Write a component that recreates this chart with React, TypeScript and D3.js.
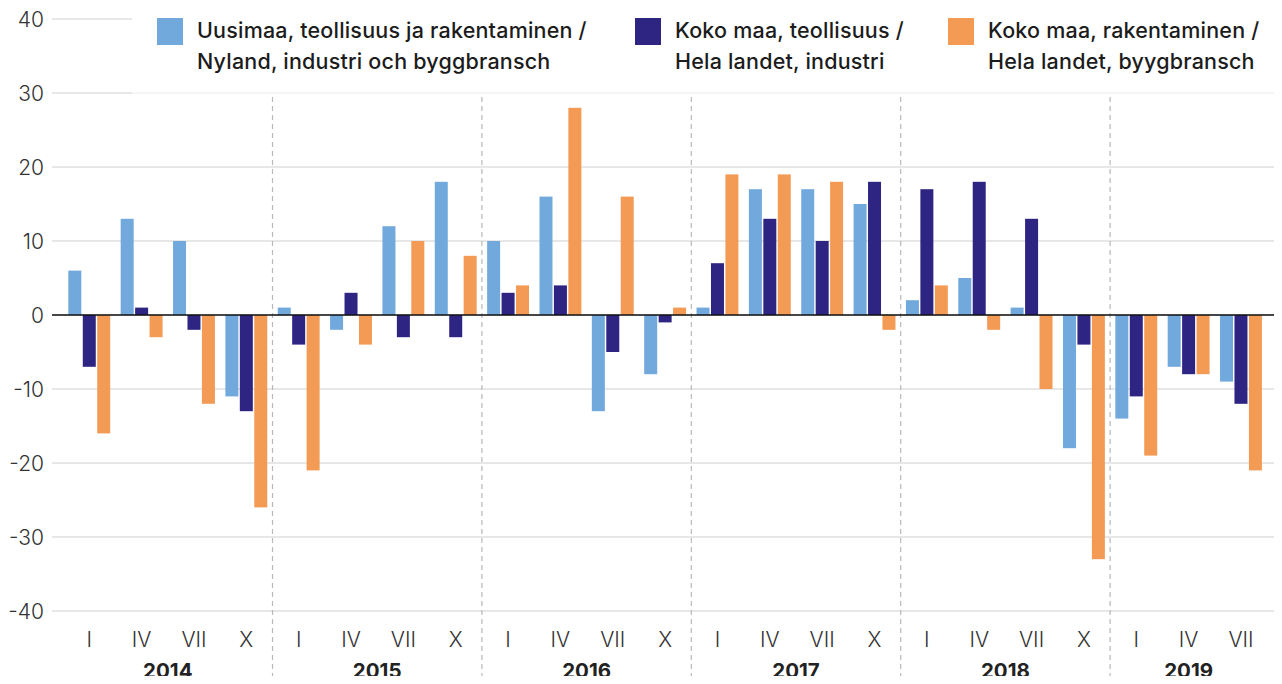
import React from "react";
import { scaleBand, scaleLinear, range } from "d3";

const years = ["2014", "2015", "2016", "2017", "2018", "2019"];
const quarters = [
  "2014 I", "2014 IV", "2014 VII", "2014 X",
  "2015 I", "2015 IV", "2015 VII", "2015 X",
  "2016 I", "2016 IV", "2016 VII", "2016 X",
  "2017 I", "2017 IV", "2017 VII", "2017 X",
  "2018 I", "2018 IV", "2018 VII", "2018 X",
  "2019 I", "2019 IV", "2019 VII",
];

// Uusimaa, teollisuus ja rakentaminen
const uusimaa = [6, 13, 10, -11, 1, -2, 12, 18, 10, 16, -13, -8, 1, 17, 17, 15, 2, 5, 1, -18, -14, -7, -9];
// Koko maa, teollisuus
const kokoTeollisuus = [-7, 1, -2, -13, -4, 3, -3, -3, 3, 4, -5, -1, 7, 13, 10, 18, 17, 18, 13, -4, -11, -8, -12];
// Koko maa, rakentaminen
const kokoRakentaminen = [-16, -3, -12, -26, -21, -4, 10, 8, 4, 28, 16, 1, 19, 19, 18, -2, 4, -2, -10, -33, -19, -8, -21];

const yTicks = [40, 30, 20, 10, 0, -10, -20, -30, -40];

const seriesNames = ["uusimaa", "teollisuus", "rakentaminen"];
const seriesColors = ["#72a9dc", "#2e2583", "#f39a55"];
const legendLines = [
  ["Uusimaa, teollisuus ja rakentaminen /", "Nyland, industri och byggbransch"],
  ["Koko maa, teollisuus /", "Hela landet, industri"],
  ["Koko maa, rakentaminen /", "Hela landet, byygbransch"],
];
const legendX = [157, 635, 948];

const W = 1282;
const H = 684;
const font = "Inter, 'Noto Sans', sans-serif";

export default function App() {
  const step = 52.35;
  const x0 = 63.1;
  const x = scaleBand<string>()
    .domain(quarters)
    .range([x0, x0 + step * quarters.length])
    .paddingInner(0.2)
    .paddingOuter(0.1);
  const xInner = scaleBand<string>()
    .domain(seriesNames)
    .range([0, x.bandwidth()])
    .paddingInner(0.1);
  const y = scaleLinear().domain([-40, 40]).range([611, 19]);

  const allSeries = [uusimaa, kokoTeollisuus, kokoRakentaminen];

  return (
    <div style={{ margin: -8 }}>
      <svg width={W} height={H} style={{ display: "block", background: "#fff" }}>
        {/* gridlines */}
        {yTicks.map((t) => (
          <line
            key={"g" + t}
            x1={52}
            x2={t >= 30 ? 132 : 1280}
            y1={y(t)}
            y2={y(t)}
            stroke="#d0d0d0"
            strokeWidth={1.2}
          />
        ))}
        <line x1={132} x2={1280} y1={y(30)} y2={y(30)} stroke="#ececec" strokeWidth={1.2} />

        {/* year separators */}
        {range(1, years.length).map((k) => {
          const xs = x0 + k * 4 * step;
          return (
            <line
              key={"s" + k}
              x1={xs}
              x2={xs}
              y1={97}
              y2={H}
              stroke="#b8b8b8"
              strokeWidth={1.2}
              strokeDasharray="5,4"
            />
          );
        })}

        {/* bars */}
        {quarters.map((q, i) => (
          <g key={q} transform={`translate(${x(q)},0)`}>
            {allSeries.map((s, j) => {
              const v = s[i];
              return (
                <rect
                  key={j}
                  x={xInner(seriesNames[j])}
                  width={xInner.bandwidth()}
                  y={Math.min(y(v), y(0))}
                  height={Math.abs(y(v) - y(0))}
                  fill={seriesColors[j]}
                />
              );
            })}
          </g>
        ))}
        {/* zero line on top */}
        <line x1={52} x2={1280} y1={y(0)} y2={y(0)} stroke="#111" strokeWidth={1.6} />

        {/* y labels */}
        {yTicks.map((t) => (
          <text
            key={"l" + t}
            x={44}
            y={y(t)}
            dy="0.36em"
            textAnchor="end"
            fontFamily={font}
            fontSize={21}
            fontWeight={300}
            fill="#333"
          >
            {t}
          </text>
        ))}

        {/* quarter labels */}
        {quarters.map((q) => (
          <text
            key={"q" + q}
            x={(x(q) as number) + x.bandwidth() / 2}
            y={647}
            textAnchor="middle"
            fontFamily={font}
            fontSize={21}
            fontWeight={300}
            fill="#333"
          >
            {q.split(" ")[1]}
          </text>
        ))}

        {/* year labels */}
        {years.map((yr) => {
          const qs = quarters.filter((q) => q.startsWith(yr));
          const a = x(qs[0]) as number;
          const b = (x(qs[qs.length - 1]) as number) + x.bandwidth();
          return (
            <text
              key={"y" + yr}
              x={(a + b) / 2}
              y={678}
              textAnchor="middle"
              fontFamily={font}
              fontSize={20.5}
              fontWeight={700}
              fill="#222"
            >
              {yr}
            </text>
          );
        })}

        {/* legend */}
        {legendLines.map((lines, i) => (
          <g key={"lg" + i}>
            <rect x={legendX[i]} y={18} width={26} height={27} fill={seriesColors[i]} />
            {lines.map((ln, k) => (
              <text
                key={k}
                x={legendX[i] + 40}
                y={38 + k * 31}
                fontFamily={font}
                fontSize={21.5}
                fontWeight={500}
                letterSpacing={0.2}
                fill="#1c1c1c"
              >
                {ln}
              </text>
            ))}
          </g>
        ))}
      </svg>
    </div>
  );
}
